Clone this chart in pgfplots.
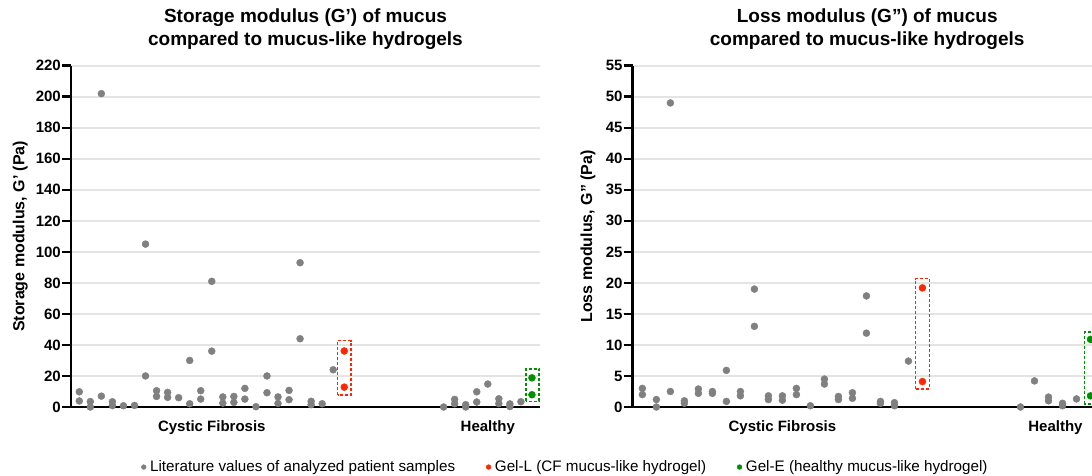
\documentclass[border=0pt]{standalone}
\usepackage{fontspec}
\setmainfont{Liberation Sans}
\usepackage{pgfplots}
\pgfplotsset{compat=1.18}

\definecolor{dotgray}{RGB}{128,128,128}
\definecolor{gelred}{RGB}{255,38,0}
\definecolor{gelgreen}{RGB}{0,143,0}
\definecolor{gridgray}{RGB}{228,228,228}

\tikzset{gelbox/.style={line width=1.5pt, dash pattern=on 3pt off 2pt}}

\pgfplotsset{
  mucus/.style={
    scale only axis, width=469pt, height=341.3pt,
    axis x line*=bottom, axis y line*=left,
    axis line style={line width=2.8pt, black},
    every outer x axis line/.append style={-},
    every outer y axis line/.append style={-},
    ymin=0,
    ymajorgrids, grid style={line width=1.6pt, gridgray},
    tick pos=left, tick align=outside,
    major tick length=9pt,
    ytick style={line width=2.5pt, black},
    xtick style={draw=none},
    yticklabel style={font=\fontsize{15}{15}\selectfont\bfseries, inner sep=1pt},
    xticklabel style={font=\fontsize{15}{15}\selectfont\bfseries, inner sep=0pt, yshift=-4pt},
    /pgf/number format/assume math mode=true,
    clip=false,
    ylabel style={font=\fontsize{16}{16}\selectfont\bfseries, anchor=center},
    title style={font=\fontsize{19}{23}\selectfont\bfseries, align=center, at={(axis description cs:0.5,1)}, anchor=south, inner sep=0pt, yshift=10pt},
  },
  graydots/.style={only marks, mark=*, mark size=3.5pt, color=dotgray, forget plot},
  reddots/.style={only marks, mark=*, mark size=3.5pt, color=gelred, forget plot},
  greendots/.style={only marks, mark=*, mark size=3.5pt, color=gelgreen, forget plot},
}

\begin{document}
\begin{tikzpicture}
%------------------ Storage modulus ------------------
\begin{axis}[mucus,
  at={(71pt,68pt)}, anchor=south west,
  xmin=-0.75, xmax=41.73, ymax=220,
  ytick={0,20,...,220},
  xtick={12,37}, xticklabels={Cystic Fibrosis,Healthy},
  ylabel={Storage modulus, G’ (Pa)},
  ylabel style={at={(axis description cs:-0.108,0.5)}},
  title={Storage modulus (G’) of mucus\\compared to mucus-like hydrogels},
  legend style={at={(axis description cs:0.150,-0.176)}, anchor=west, draw=none, fill=none,
    inner sep=0pt, outer sep=0pt, legend columns=3,
    font=\fontsize{15.2}{15.2}\selectfont, nodes={inner sep=0.5pt},
    /tikz/every odd column/.append style={column sep=3.5pt},
    /tikz/every even column/.append style={column sep=30.5pt}},
  legend image code/.code={\draw[mark repeat=2,mark phase=2,#1] plot coordinates {(0pt,0pt) (3pt,0pt) (6pt,0pt)};},
]
\addlegendimage{only marks, mark=*, mark size=2.4pt, color=dotgray}
\addlegendentry{Literature values of analyzed patient samples}
\addlegendimage{only marks, mark=*, mark size=2.4pt, color=gelred}
\addlegendentry{Gel-L (CF mucus-like hydrogel)}
\addlegendimage{only marks, mark=*, mark size=2.4pt, color=gelgreen}
\addlegendentry{Gel-E (healthy mucus-like hydrogel)}

\addplot[graydots] coordinates {
 (0,9.8) (0,3.9)
 (1,3.5) (1,0)
 (2,202) (2,7)
 (3,3.4) (3,0.9)
 (4,0.8)
 (5,1)
 (6,105) (6,20)
 (7,10.5) (7,6.8)
 (8,9.4) (8,6.2)
 (9,6.0)
 (10,30) (10,2.1)
 (11,10.5) (11,5.1)
 (12,81) (12,36)
 (13,6.5) (13,2.5)
 (14,6.8) (14,3.0)
 (15,12) (15,5.1)
 (16,0.2)
 (17,20) (17,9.2)
 (18,6.5) (18,2.3)
 (19,10.7) (19,4.7)
 (20,93) (20,44)
 (21,3.7) (21,1.5)
 (22,2.1)
 (23,24)
 (33,0)
 (34,4.9) (34,2.1)
 (35,1.5) (35,0)
 (36,9.8) (36,3.2)
 (37,14.8)
 (38,5.3) (38,2.2)
 (39,2.0) (39,0.3)
 (40,3.4)
};
\addplot[reddots] coordinates {(24,36.1) (24,12.8)};
\addplot[greendots] coordinates {(41,18.8) (41,7.9)};
\draw[gelred, gelbox] (axis cs:23.41,7.7) rectangle (axis cs:24.61,42.8);
\draw[gelgreen, gelbox] (axis cs:40.46,3.7) rectangle (axis cs:41.64,24.6);
\end{axis}

%------------------ Loss modulus ------------------
\begin{axis}[mucus,
  at={(632.7pt,68pt)}, anchor=south west,
  xmin=-0.69, xmax=32.8, ymax=55,
  ytick={0,5,...,55},
  xtick={10,29.5}, xticklabels={Cystic Fibrosis,Healthy},
  ylabel={Loss modulus, G” (Pa)},
  ylabel style={at={(axis description cs:-0.0953,0.5)}},
  title={Loss modulus (G”) of mucus\\compared to mucus-like hydrogels},
]
\addplot[graydots] coordinates {
 (0,3.0) (0,2.0)
 (1,1.2) (1,0)
 (2,49) (2,2.5)
 (3,1.0) (3,0.6)
 (4,2.9) (4,2.2)
 (5,2.5) (5,2.2)
 (6,5.9) (6,0.9)
 (7,2.5) (7,1.8)
 (8,19) (8,13)
 (9,1.8) (9,1.2)
 (10,1.8) (10,1.1)
 (11,3.0) (11,2.0)
 (12,0.2)
 (13,4.5) (13,3.7)
 (14,1.7) (14,1.2)
 (15,2.3) (15,1.4)
 (16,17.9) (16,11.9)
 (17,0.9) (17,0.6)
 (18,0.7) (18,0.2)
 (19,7.4)
 (27,0)
 (28,4.2)
 (29,1.6) (29,1.0)
 (30,0.6) (30,0.2)
 (31,1.3)
};
\addplot[reddots] coordinates {(20,19.2) (20,4.1)};
\addplot[greendots] coordinates {(32,10.9) (32,1.8)};
\draw[gelred, gelbox] (axis cs:19.50,2.9) rectangle (axis cs:20.50,20.7);
\draw[gelgreen, gelbox] (axis cs:31.57,0.5) rectangle (axis cs:32.55,12.1);
\end{axis}

\pgfresetboundingbox
\useasboundingbox (0,0) rectangle (1092pt,475pt);
\end{tikzpicture}
\end{document}
